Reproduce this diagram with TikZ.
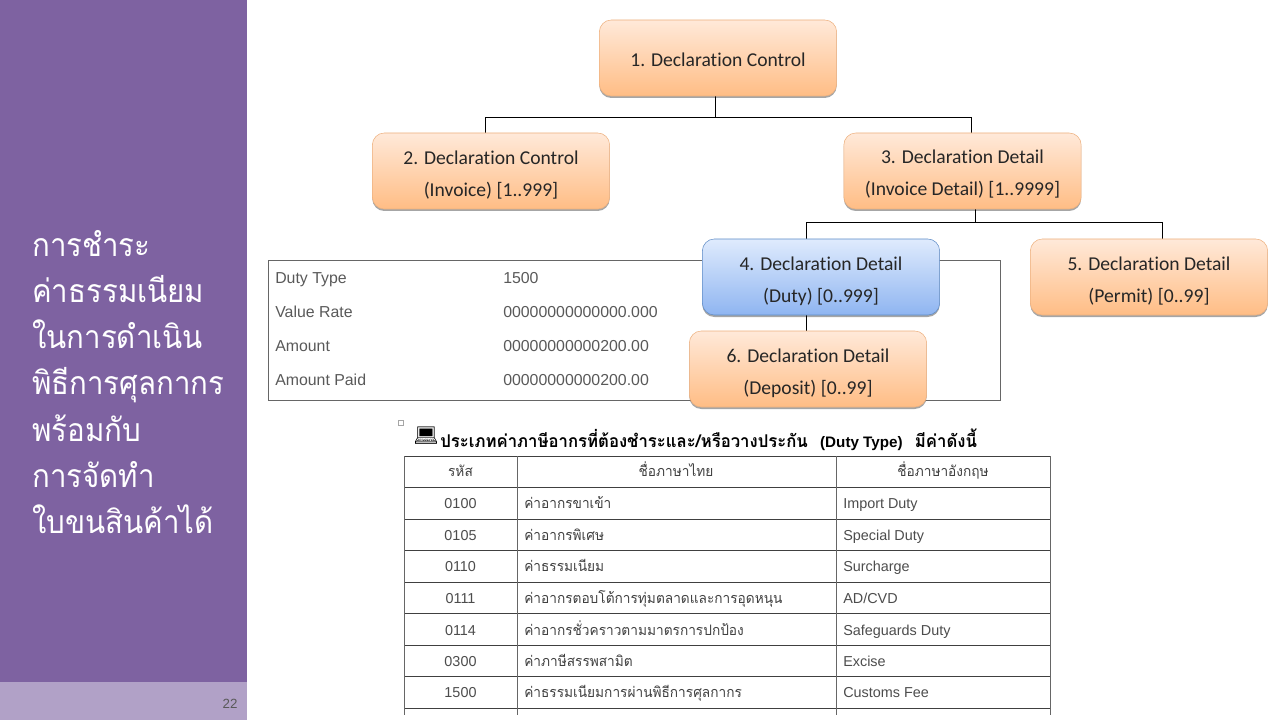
\documentclass[tikz,border=0pt]{standalone}
\usepackage{fontspec}
\setmainfont[Ligatures=NoCommon]{Carlito}
\newfontfamily\thaifont[Script=Thai,FakeStretch=0.95]{Loma}
\newfontfamily\sidefont[Script=Thai,FakeStretch=0.92]{Loma}
\newfontfamily\arialfont{Liberation Sans}
\newfontfamily\emojifont{Noto Emoji}
\usetikzlibrary{calc,positioning,shadows,backgrounds}

\definecolor{myviolet}{HTML}{7E62A1}
\definecolor{myviolettwo}{HTML}{B1A1C7}
\definecolor{myline}{HTML}{666666}
\definecolor{myorangetop}{HTML}{FFE9D9}
\definecolor{myorangebot}{HTML}{FFBD85}
\definecolor{myorangeline}{HTML}{EDB07E}
\definecolor{mybluetop}{HTML}{DFEBFD}
\definecolor{mybluebot}{HTML}{8FB5F1}
\definecolor{myblueline}{HTML}{5F8CC6}
\newcommand{\boxrise}[1]{\rule{0pt}{#1pt}}

\begin{document}
\begin{tikzpicture}[
  x=0.75pt,
  y=-0.75pt,
  mybox/.style={
    rectangle,
    rounded corners=9pt,
    minimum width=178pt,
    minimum height=57pt,
    align=center,
    text=black!85,
    font=\fontsize{14.7}{24}\selectfont,
    drop shadow={shadow xshift=0pt,shadow yshift=-1.5pt,opacity=.35,fill=black}
  },
  myorange/.style={
    mybox,
    draw=myorangeline,
    top color=myorangetop,
    bottom color=myorangebot
  },
  myblue/.style={
    mybox,
    draw=myblueline,
    top color=mybluetop,
    bottom color=mybluebot
  },
  myduty/.style={
    anchor=west,
    inner sep=0pt,
    text height=9pt,
    text depth=1.5pt,
    text=black!65,
    font=\fontsize{11.9}{14}\selectfont\arialfont
  },
  mycell/.style={
    anchor=west,
    inner sep=0pt,
    text height=8pt,
    text depth=0.5pt,
    text=black!70,
    font=\fontsize{10.8}{13}\selectfont\arialfont
  },
  mythai/.style={
    anchor=west,
    inner sep=0pt,
    text height=8pt,
    text depth=0.5pt,
    text=black!75,
    font=\fontsize{10.8}{13}\selectfont\thaifont
  },
  mygrid/.style={
    draw=myline,
    line width=0.7pt
  },
  mylink/.style={
    draw=black,
    line width=0.75pt
  }
]

\useasboundingbox (0,0) rectangle (1280,720);

\fill[myviolet] (0,0) rectangle (247,682);
\fill[myviolettwo] (0,682) rectangle (247,720);
\node[
  anchor=west,
  inner sep=0pt,
  align=left,
  text=white,
  font=\fontsize{24}{34.7}\selectfont\sidefont
] (sidetitle) at (32,382) {การชำระ\\ค่าธรรมเนียม\\ในการดำเนิน\\พิธีการศุลกากร\\พร้อมกับ\\การจัดทำ\\ใบขนสินค้าได้};
\node[text=black!65, inner sep=0pt, font=\fontsize{10}{12}\selectfont\arialfont] (pagenum) at (230,704) {22};

\draw[mygrid] (268,260) rectangle (1000,400);
\node[myduty] (dutya) at (275,278) {Duty Type};
\node[myduty] (dutyb) at (275,312) {Value Rate};
\node[myduty] (dutyc) at (275,346) {Amount};
\node[myduty] (dutyd) at (275,380) {Amount Paid};
\node[myduty] (vala) at (503,278) {1500};
\node[myduty] (valb) at (503,312) {00000000000000.000};
\node[myduty] (valc) at (503,346) {00000000000200.00};
\node[myduty] (vald) at (503,380) {00000000000200.00};

\node[myorange] (control) at (718,58) {\boxrise{13}1. Declaration Control};
\node[myorange] (invoice) at (491,171) {\boxrise{16}2. Declaration Control\\(Invoice) [1..999]};
\node[myorange] (detail) at (962.5,171) {\boxrise{15}3. Declaration Detail\\(Invoice Detail) [1..9999]};
\node[myorange] (permit) at (1149,277) {\boxrise{16}5. Declaration Detail\\(Permit) [0..99]};
\node[myblue] (duty) at (821,277) {\boxrise{16}4. Declaration Detail\\(Duty) [0..999]};
\node[myorange] (deposit) at (808,369) {\boxrise{16}6. Declaration Detail\\(Deposit) [0..99]};

\coordinate (busa) at (715,118);
\coordinate (busb) at (975,223);
\begin{scope}[on background layer]
\draw[mylink] (busa |- control.south) -- (busa);
\draw[mylink] (busa) -| ([xshift=-4.5pt]invoice.north);
\draw[mylink] (busa) -| ([xshift=7.1pt]detail.north);
\draw[mylink] (busb |- detail.south) -- (busb);
\draw[mylink] (busb) -| ([xshift=-11.25pt]duty.north);
\draw[mylink] (busb) -| ([xshift=9.75pt]permit.north);
\draw[mylink] ([xshift=-11.25pt]duty.south) -- ([xshift=-1.5pt]deposit.north);
\end{scope}

\node[draw=black!35, fill=white, minimum size=3.5pt, inner sep=0pt, line width=0.5pt] (tick) at (400.5,423) {};
\node[inner sep=0pt, anchor=west, text=black, font=\fontsize{15}{16}\selectfont\emojifont] (laptop) at (413,436) {\symbol{"1F4BB}};
\node[anchor=west, inner sep=0pt, text=black, font=\fontsize{13.2}{15}\selectfont\thaifont\bfseries] (tabletitle) at (440,440) {ประเภทค่าภาษีอากรที่ต้องชำระและ/หรือวางประกัน\hspace{0.7em}{\arialfont\fontsize{11.4}{13}\selectfont(Duty Type)}\hspace{0.7em}มีค่าดังนี้};

\foreach \Y in {456,487,519,550,582,613,645,676,708}
  \draw[mygrid, draw=black!75] (404,\Y) -- (1050,\Y);
\foreach \X in {404,517,836,1050}
  \draw[mygrid] (\X,456) -- (\X,715);

\node[mythai, anchor=center] (heada) at (460.5,471.5) {รหัส};
\node[mythai, anchor=center] (headb) at (676,471.5) {ชื่อภาษาไทย};
\node[mythai, anchor=center] (headc) at (943,471.5) {ชื่อภาษาอังกฤษ};

\foreach \Code/\Thai/\Eng/\Y [count=\Rowi from 1] in {
  0100/ค่าอากรขาเข้า/Import Duty/503,
  0105/ค่าอากรพิเศษ/Special Duty/535,
  0110/ค่าธรรมเนียม/Surcharge/566,
  0111/ค่าอากรตอบโต้การทุ่มตลาดและการอุดหนุน/AD\slash CVD/598,
  0114/ค่าอากรชั่วคราวตามมาตรการปกป้อง/Safeguards Duty/630,
  0300/ค่าภาษีสรรพสามิต/Excise/661,
  1500/ค่าธรรมเนียมการผ่านพิธีการศุลกากร/Customs Fee/692}
{
  \node[mycell, anchor=center] (code\Rowi) at (460.5,\Y) {\Code};
  \node[mythai] (thai\Rowi) at (524,\Y) {\Thai};
  \node[mycell] (eng\Rowi) at (843,\Y) {\Eng};
}

\end{tikzpicture}
\end{document}
